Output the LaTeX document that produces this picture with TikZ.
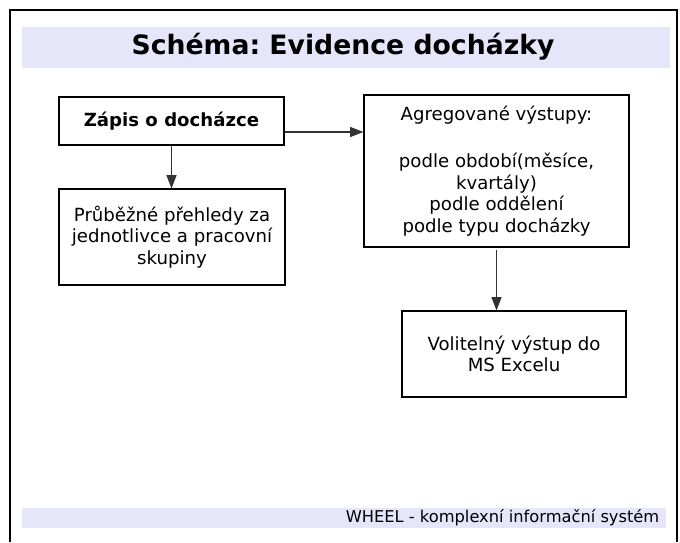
\documentclass[tikz,border=0pt]{standalone}
\usepackage{fontspec}
\setmainfont{DejaVu Sans}
\usepackage{tikz}
\usetikzlibrary{positioning,arrows.meta}
\definecolor{bandlila}{RGB}{230,230,250}
\frenchspacing

\begin{document}
\begin{tikzpicture}[x=0.75pt,y=-0.75pt,
		box/.style={draw=black,line width=0.8pt,align=center,inner sep=2pt,font=\fontsize{13.6}{16.2}\selectfont},
		arr/.style={draw=black!80,line width=0.8pt,-{Triangle[length=10pt,width=7.5pt]}}]
		\useasboundingbox (0,0) rectangle (680,542);
		
		%frame
		\draw[line width=1pt] (10,542) -- (10,10) -- (677,10) -- (677,542);
		
		%title band
		\fill[bandlila] (22,27) rectangle (670,68);
		\node[font=\bfseries\fontsize{20}{24}\selectfont] (title) at (343,47) {Schéma: Evidence docházky};
		
		%boxes
		\node[box,font=\bfseries\fontsize{13.6}{16}\selectfont,minimum width=225*0.75pt,minimum height=48*0.75pt] (zapis) at (171.5,121) {Zápis o docházce};
		\node[box,minimum width=226*0.75pt,minimum height=96*0.75pt] (prubezne) at (172,237) {Průběžné přehledy za\\jednotlivce a pracovní\\skupiny};
		\node[box,minimum width=265*0.75pt,minimum height=152*0.75pt] (agreg) at (496.5,171) {Agregované výstupy:\\[19pt]podle období(měsíce,\\kvartály)\\podle oddělení\\podle typu docházky};
		\node[box,minimum width=224*0.75pt,minimum height=86*0.75pt] (excel) at (514,354) {Volitelný výstup do\\MS Excelu};
		
		%connectors
		\coordinate (vpravo) at (284,132);
		\draw[arr] (zapis.east |- vpravo) -- (agreg.west |- vpravo);
		\draw[arr] (zapis.south) -- (zapis.south |- prubezne.north);
		\draw[arr] ([yshift=-2pt]agreg.south) -- (agreg.south |- excel.north);
		
		%footer band
		\fill[bandlila] (22,508) rectangle (666,528);
		\node[anchor=east,font=\fontsize{12.2}{14}\selectfont] (pata) at (664,518) {WHEEL - komplexní informační systém};
	\end{tikzpicture}
\end{document}
